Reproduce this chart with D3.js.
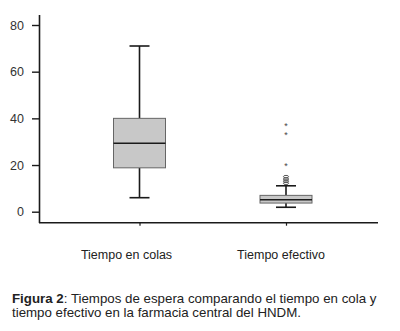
<!DOCTYPE html>
<html>
<head>
<meta charset="utf-8">
<script src="https://cdn.jsdelivr.net/npm/d3@7"></script>
<style>
  body { margin: 0; background: #fff; }
  svg { display: block; }
</style>
</head>
<body>
<div id="chart"></div>
<script>
(function(){

  const categories = ['Tiempo en colas', 'Tiempo efectivo']
  const whiskerLow  = [6, 1.9]
  const q1          = [18.8, 3.7]
  const medians     = [29.3, 5.1]
  const q3          = [40, 7.0]
  const whiskerHigh = [71, 11.1]
  // small circles (outliers) and stars (extremes), only second group has them
  const outliers = [[], [12.2, 13.1, 14.0, 15.0]]
  const extremes = [[], [19.9, 33.1, 37.1]]
  const yTicks = [0, 20, 40, 60, 80]
  const labelShift = [-13, -5]

  const W = 400, H = 331
  const ink = '#1a1a1a'

  var svg = d3.select('#chart').append('svg')
              .attr('width', W).attr('height', H)

  var y = d3.scaleLinear().domain([0, 80]).range([211.7, 25])
  var x = d3.scalePoint().domain(categories).range([139.5, 286])

  // axes lines
  svg.append('line').attr('x1', 39.5).attr('x2', 39.5)
     .attr('y1', 15).attr('y2', 223)
     .attr('stroke', ink).attr('stroke-width', 1.6)
  svg.append('line').attr('x1', 39).attr('x2', 378)
     .attr('y1', 222.7).attr('y2', 222.7)
     .attr('stroke', ink).attr('stroke-width', 1.6)

  var yAxis = svg.append('g').attr('transform', 'translate(39,0)')
     .call(d3.axisLeft(y).tickValues(yTicks).tickSize(7).tickPadding(8).tickSizeOuter(0))
  yAxis.select('.domain').remove()
  yAxis.selectAll('line').attr('stroke', ink).attr('stroke-width', 1.4)
  yAxis.selectAll('text').attr('font-family', 'Liberation Sans, Arial')
       .attr('font-size', '12.5px').attr('fill', '#333')

  var xAxis = svg.append('g').attr('transform', 'translate(0,222.7)')
     .call(d3.axisBottom(x).tickSize(3).tickFormat('').tickSizeOuter(0))
  xAxis.select('.domain').remove()
  xAxis.selectAll('line').attr('stroke', ink).attr('stroke-width', 1.2)

  categories.forEach(function(c, i) {
    var cx = x(c)
    var g = svg.append('g')
    var bw = 52, cap = 20
    // whiskers
    g.append('line').attr('x1', cx).attr('x2', cx)
     .attr('y1', y(whiskerHigh[i])).attr('y2', y(q3[i]))
     .attr('stroke', ink).attr('stroke-width', 1.6)
    g.append('line').attr('x1', cx).attr('x2', cx)
     .attr('y1', y(q1[i])).attr('y2', y(whiskerLow[i]))
     .attr('stroke', ink).attr('stroke-width', 1.6)
    g.append('line').attr('x1', cx - cap/2).attr('x2', cx + cap/2)
     .attr('y1', y(whiskerHigh[i])).attr('y2', y(whiskerHigh[i]))
     .attr('stroke', ink).attr('stroke-width', 1.6)
    g.append('line').attr('x1', cx - cap/2).attr('x2', cx + cap/2)
     .attr('y1', y(whiskerLow[i])).attr('y2', y(whiskerLow[i]))
     .attr('stroke', ink).attr('stroke-width', 1.6)
    // box
    g.append('rect').attr('x', cx - bw/2).attr('width', bw)
     .attr('y', y(q3[i])).attr('height', y(q1[i]) - y(q3[i]))
     .attr('fill', '#c8c8c8').attr('stroke', '#666').attr('stroke-width', 1)
    g.append('line').attr('x1', cx - bw/2).attr('x2', cx + bw/2)
     .attr('y1', y(medians[i])).attr('y2', y(medians[i]))
     .attr('stroke', ink).attr('stroke-width', 1.6)
    // outliers
    g.selectAll('ellipse').data(outliers[i]).enter().append('ellipse')
     .attr('cx', cx).attr('cy', function(d) { return y(d) })
     .attr('rx', 2.6).attr('ry', 1.3)
     .attr('fill', 'none').attr('stroke', '#444').attr('stroke-width', 0.9)
    g.selectAll('text.star').data(extremes[i]).enter().append('text')
     .attr('class', 'star')
     .attr('x', cx).attr('y', function(d) { return y(d) + 4 })
     .attr('text-anchor', 'middle')
     .attr('font-family', 'Liberation Sans, Arial').attr('font-size', '9px')
     .attr('fill', '#444').text('*')
    // category label
    svg.append('text').attr('x', cx + labelShift[i]).attr('y', 259)
     .attr('text-anchor', 'middle')
     .attr('font-family', 'Liberation Sans, Arial').attr('font-size', '12.5px')
     .attr('fill', '#222').text(c)
  })

  var cap1 = svg.append('text').attr('x', 12).attr('y', 302.5)
     .attr('font-family', 'Liberation Sans, Arial').attr('font-size', '13.3px')
     .attr('fill', '#222')
  cap1.append('tspan').attr('font-weight', 'bold').text('Figura 2')
  cap1.append('tspan').text(': Tiempos de espera comparando el tiempo en cola y')
  svg.append('text').attr('x', 12).attr('y', 316.5)
     .attr('font-family', 'Liberation Sans, Arial').attr('font-size', '13.3px')
     .attr('fill', '#222')
     .text('tiempo efectivo en la farmacia central del HNDM.')

})()
</script>
</body>
</html>
